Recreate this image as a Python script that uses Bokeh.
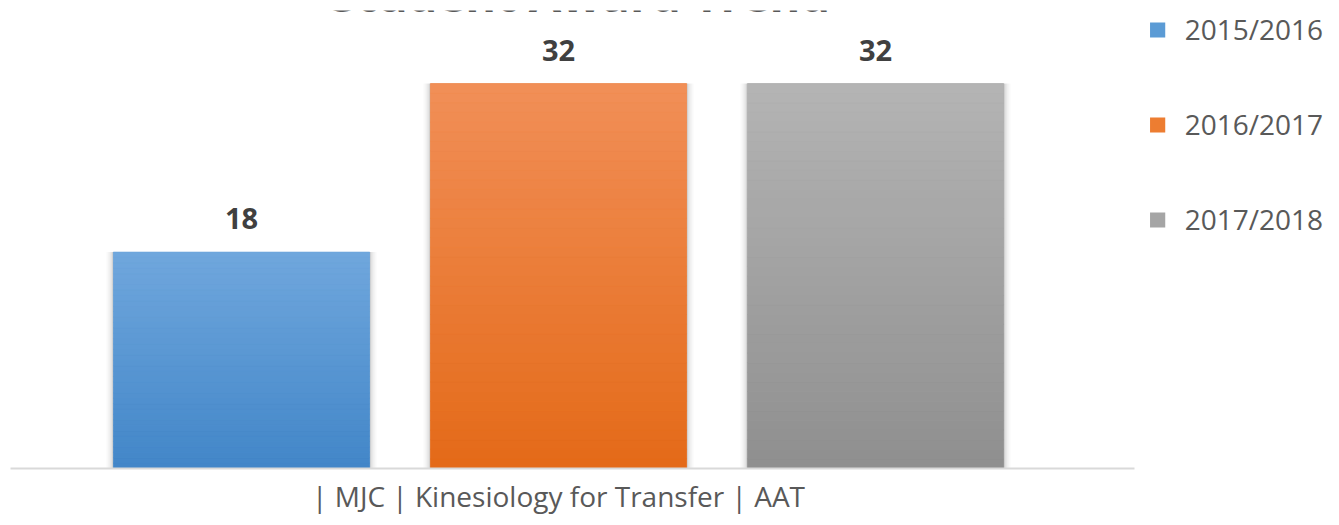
from bokeh.plotting import figure
from bokeh.models import ColumnDataSource, Legend, LegendItem, Label, Range1d, FixedTicker
from bokeh.core.properties import value
from bokeh.embed import file_html
from bokeh.resources import INLINE

title_text = "Student Award Trend"
category = "| MJC | Kinesiology for Transfer | AAT"
years = ["2015/2016", "2016/2017", "2017/2018"]
values = [18, 32, 32]
colors = ["#5b9bd5", "#ed7d31", "#a5a5a5"]
top_colors = [(112, 167, 221), (241, 143, 88), (180, 180, 180)]
bottom_colors = [(66, 134, 200), (228, 106, 24), (143, 143, 143)]
positions = [0, 1, 2]

FONT = "Open Sans"
BAR_W = 0.808
PX = 1 / 317.0  # one pixel in x data units

p = figure(width=1323, height=517, output_backend="svg", toolbar_location=None,
           x_range=Range1d(-0.7287, 3.413), y_range=Range1d(0, 38.07),
           min_border_left=10, min_border_right=0, min_border_top=10, min_border_bottom=47)
p.outline_line_color = None
p.grid.grid_line_color = None
p.yaxis.visible = False

src = ColumnDataSource(dict(x=positions, top=values, color=colors, year=years,
                            label=[str(v) for v in values]))

# soft shadow around the bars
for extra, alpha in [(14, 0.025), (10, 0.035), (6, 0.05), (3, 0.07)]:
    p.vbar(x="x", top="top", width=BAR_W + extra * PX, fill_color="black", fill_alpha=alpha,
           line_color=None, source=src)

# solid base bars (used for the legend)
r = p.vbar(x="x", top="top", width=BAR_W, fill_color="color", line_color=None, source=src)

# vertical gradient drawn as slices of each bar
N = 40
gx, gb, gt, gc = [], [], [], []
for xi, v, tc, bc in zip(positions, values, top_colors, bottom_colors):
    for k in range(N):
        f = (k + 0.5) / N
        c = tuple(int(round(bc[j] + (tc[j] - bc[j]) * f)) for j in range(3))
        gx.append(xi)
        gb.append(v * k / N)
        gt.append(v * (k + 1) / N)
        gc.append("#%02x%02x%02x" % c)
p.vbar(x=gx, bottom=gb, top=gt, width=BAR_W, fill_color=gc, line_color=gc, line_width=0.5)

p.text(x="x", y="top", text="label", source=src, text_align="center", text_baseline="middle",
       y_offset=-33, text_font=value(FONT), text_font_style="bold", text_font_size="29px",
       text_color="#404040")

xa = p.xaxis[0]
xa.ticker = FixedTicker(ticks=[1])
xa.major_label_overrides = {1: category}
xa.bounds = (-0.7287, 2.817)
xa.major_tick_line_color = None
xa.minor_tick_line_color = None
xa.axis_line_color = "#d9d9d9"
xa.axis_line_width = 2
xa.major_label_text_font = FONT
xa.major_label_text_font_size = "28px"
xa.major_label_text_color = "#595959"
xa.major_label_standoff = 2

items = [LegendItem(label=years[i], renderers=[r], index=i) for i in range(3)]
legend = Legend(items=items, location="top_right", orientation="vertical",
                glyph_width=19, glyph_height=19, label_height=38, spacing=57, padding=0, margin=0,
                label_text_font=FONT, label_text_font_size="28px", label_text_color="#595959",
                label_standoff=18, border_line_color=None, background_fill_alpha=0)
p.add_layout(legend, "center")

title = Label(x=1.069, y=39.45, text=title_text,
              text_align="center", text_baseline="alphabetic", text_font=FONT,
              text_font_style="bold", text_font_size="47px", text_color="#595959")
p.add_layout(title)

open("out.html", "w").write(file_html(p, INLINE))
